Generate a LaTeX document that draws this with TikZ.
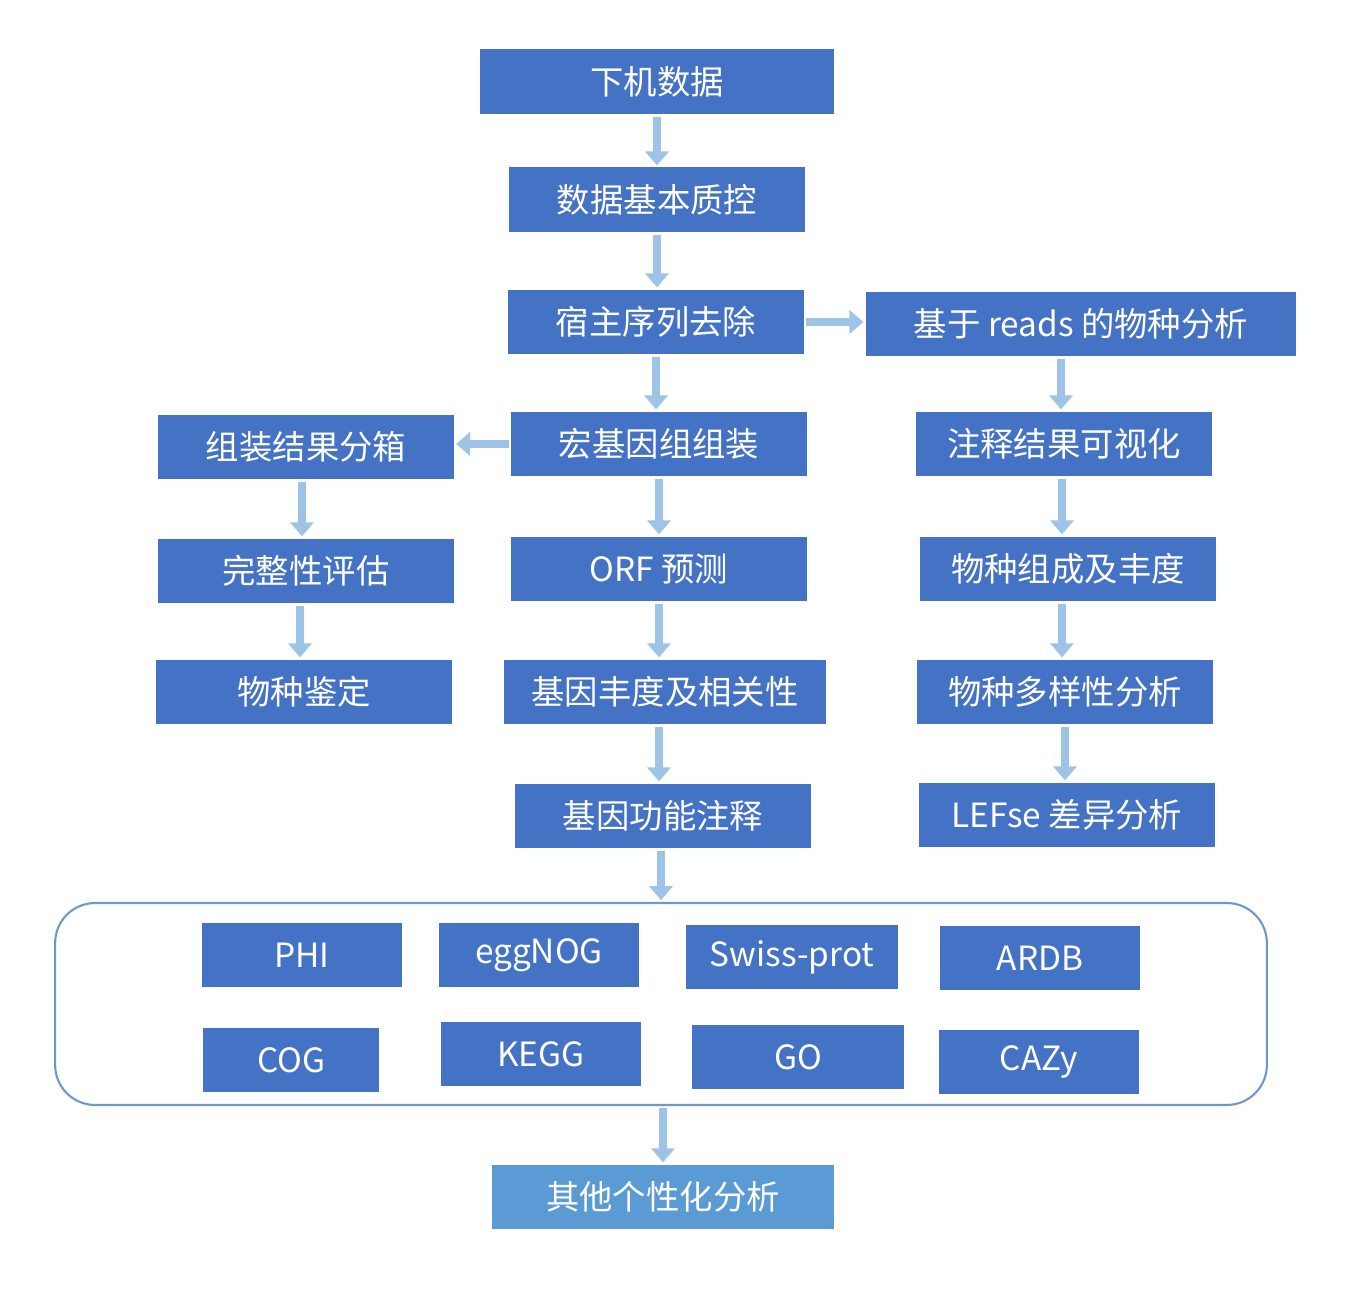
\documentclass[tikz,border=0pt]{standalone}
\usepackage{fontspec}
\setmainfont{Noto Sans CJK SC}
\usetikzlibrary{arrows.meta}

\definecolor{boxblue}{HTML}{4472C4}
\definecolor{lightbox}{HTML}{5B9BD5}
\definecolor{arrowblue}{HTML}{9DC3E6}
\definecolor{framecol}{HTML}{6F98CB}

\begin{document}
\begin{tikzpicture}[
        x=0.02cm, y=-0.02cm,
        stepnode/.style={rectangle, fill=boxblue, text=white, minimum width=5.92cm, minimum height=1.3cm, inner sep=0pt, font=\fontsize{19}{22}\selectfont},
        dbnode/.style={stepnode, minimum width=4cm},
        flow/.style={-{Triangle[length=0.28cm, width=0.46cm]}, line width=5pt, draw=arrowblue, shorten >=1pt, shorten <=1pt}
    ]
        \useasboundingbox (0,0) rectangle (1363,1293);

        % main column
        \node[stepnode, minimum width=7.1cm] (raw) at (657,82) {下机数据};
        \node[stepnode] (qc) at (657,200) {数据基本质控};
        \node[stepnode] (host) at (656,322) {宿主序列去除};
        \node[stepnode] (asm) at (659,444) {宏基因组组装};
        \node[stepnode] (orf) at (659,569) {ORF 预测};
        \node[stepnode, minimum width=6.44cm] (abund) at (665,692) {基因丰度及相关性};
        \node[stepnode] (func) at (663,816) {基因功能注释};

        % left column
        \node[stepnode] (bin) at (306,447) {组装结果分箱};
        \node[stepnode] (compl) at (306,571) {完整性评估};
        \node[stepnode] (ident) at (304,692) {物种鉴定};

        % right column
        \node[stepnode, minimum width=8.62cm] (reads) at (1081,324) {基于 reads 的物种分析};
        \node[stepnode] (vis) at (1064,444) {注释结果可视化};
        \node[stepnode] (comp) at (1068,569) {物种组成及丰度};
        \node[stepnode] (div) at (1065,692) {物种多样性分析};
        \node[stepnode] (lefse) at (1067,815) {LEFse 差异分析};

        % database box
        \node[draw=framecol, line width=1.2pt, rounded corners=0.8cm, minimum width=24.24cm, minimum height=4.04cm] (dbframe) at (661,1004) {};
        \node[dbnode] (phi) at (302,955) {PHI};
        \node[dbnode] (egg) at (539,955) {eggNOG};
        \node[dbnode, minimum width=4.24cm] (swiss) at (792,957) {Swiss-prot};
        \node[dbnode, minimum width=4.02cm] (ardb) at (1040,958) {ARDB};
        \node[dbnode, minimum width=3.54cm] (cog) at (291,1060) {COG};
        \node[dbnode] (kegg) at (541,1054) {KEGG};
        \node[dbnode, minimum width=4.24cm] (go) at (798,1057) {GO};
        \node[dbnode] (cazy) at (1039,1062) {CAZy};

        \node[stepnode, fill=lightbox, minimum width=6.84cm] (other) at (663,1197) {其他个性化分析};

        % arrows
        \draw[flow] (raw.south) -- (raw.south |- qc.north);
        \draw[flow] (qc.south) -- (qc.south |- host.north);
        \draw[flow] (host.south) -- (host.south |- asm.north);
        \draw[flow] (host.east) -- (host.east -| reads.west);
        \draw[flow] (asm.west) -- (asm.west -| bin.east);
        \draw[flow] (asm.south) -- (asm.south |- orf.north);
        \draw[flow] ([xshift=-0.12cm]abund.north |- orf.south) -- ([xshift=-0.12cm]abund.north);
        \draw[flow] ([xshift=-0.12cm]abund.south) -- ([xshift=-0.12cm]abund.south |- func.north);
        \draw[flow] ([xshift=-0.04cm]func.south) -- ([xshift=-0.04cm]func.south |- dbframe.north);
        \draw[flow] (dbframe.south -| other.south) -- (other.north);
        \draw[flow] ([xshift=-0.08cm]bin.south) -- ([xshift=-0.08cm]bin.south |- compl.north);
        \draw[flow] ([xshift=-0.12cm]compl.south) -- ([xshift=-0.12cm]compl.south |- ident.north);
        \draw[flow] ([xshift=-0.4cm]reads.south) -- ([xshift=-0.4cm]reads.south |- vis.north);
        \draw[flow] ([xshift=-0.12cm]comp.north |- vis.south) -- ([xshift=-0.12cm]comp.north);
        \draw[flow] ([xshift=-0.12cm]comp.south) -- ([xshift=-0.12cm]comp.south |- div.north);
        \draw[flow] (div.south) -- (div.south |- lefse.north);
\end{tikzpicture}
\end{document}
